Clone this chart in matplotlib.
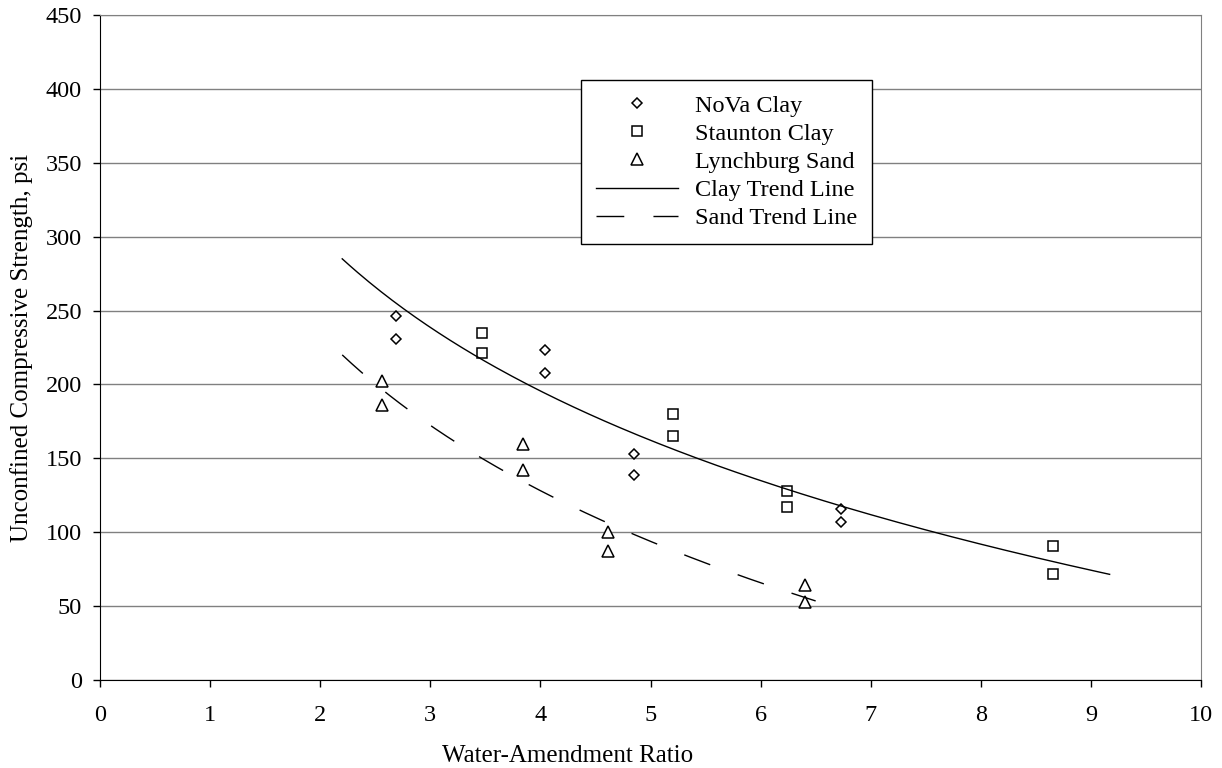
import numpy as np
import matplotlib
matplotlib.use("Agg")
import matplotlib.pyplot as plt

plt.rcParams['font.family'] = ['Liberation Serif', 'DejaVu Serif']

# data
nova_x = [2.69, 2.69, 4.04, 4.04, 4.85, 4.85, 6.73, 6.73]
nova_y = [246, 231, 223, 208, 153, 139, 116, 107]

staunton_x = [3.47, 3.47, 5.20, 5.20, 6.24, 6.24, 8.66, 8.66]
staunton_y = [235, 221, 180, 165, 128, 117, 91, 72]

lynch_x = [2.56, 2.56, 3.84, 3.84, 4.61, 4.61, 6.40, 6.40]
lynch_y = [202, 186, 160, 142, 100, 87, 64, 53]

# trend lines (logarithmic) as drawn: value at start and end of range
clay_trend_x = [2.2, 9.17]
clay_trend_y = [285, 71.5]
sand_trend_x = [2.2, 6.5]
sand_trend_y = [220, 53.5]


def log_curve(xs, ys, n=200):
    b = (ys[1] - ys[0]) / np.log(xs[1] / xs[0])
    xx = np.linspace(xs[0], xs[1], n)
    return xx, ys[0] + b * np.log(xx / xs[0])


fig = plt.figure(figsize=(12.22, 7.68), dpi=100)
ax = fig.add_axes([100 / 1222, 88 / 768, 1101 / 1222, 665 / 768])

ax.set_axisbelow(True)
ax.yaxis.grid(True, color='#808080', linewidth=1)

mk = dict(linestyle='none', markerfacecolor='white', markeredgecolor='black', markeredgewidth=1.1)
ax.plot(nova_x, nova_y, marker='D', markersize=5.4, label='NoVa Clay', **mk)
ax.plot(staunton_x, staunton_y, marker='s', markersize=7.7, label='Staunton Clay', **mk)
ax.plot(lynch_x, lynch_y, marker='^', markersize=8, label='Lynchburg Sand', **mk)

cx, cy = log_curve(clay_trend_x, clay_trend_y)
ax.plot(cx, cy, color='black', linewidth=1, label='Clay Trend Line')
sx, sy = log_curve(sand_trend_x, sand_trend_y)
ax.plot(sx, sy, color='black', linewidth=1, dashes=(20, 21), label='Sand Trend Line')

ax.set_xlim(0, 10)
ax.set_ylim(0, 450)
ax.set_xticks(range(0, 11))
ax.set_yticks(range(0, 451, 50))
ax.tick_params(direction='out', length=5, width=1, labelsize=17.5, pad=8)
ax.tick_params(axis='x', pad=13)

for s in ['top', 'right']:
    ax.spines[s].set_color('#808080')
for s in ['left', 'bottom']:
    ax.spines[s].set_color('black')

ax.set_xlabel('Water-Amendment Ratio', fontsize=18)
ax.xaxis.set_label_coords(0.425, -0.098)
ax.set_ylabel('Unconfined Compressive Strength, psi', fontsize=18, labelpad=9)

leg = ax.legend(loc='upper left', bbox_to_anchor=(0.437, 0.902), borderaxespad=0,
                fontsize=17.5, handlelength=3.4, handletextpad=0.7, labelspacing=0.25,
                borderpad=0.6, fancybox=False, framealpha=1, edgecolor='black')
leg.get_frame().set_linewidth(1)

fig.savefig('out.png', dpi=100)
